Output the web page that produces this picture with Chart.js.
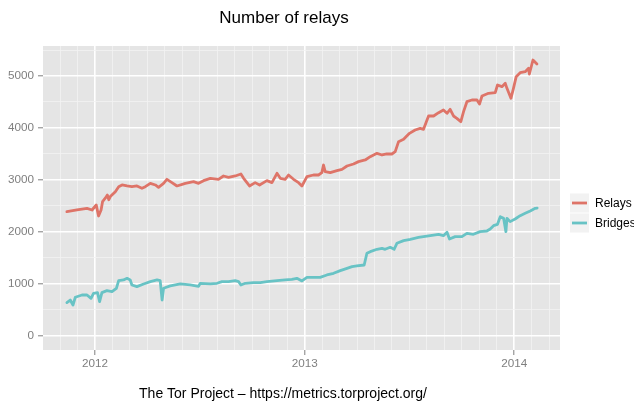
<!DOCTYPE html>
<html lang="en">
<head>
<meta charset="UTF-8">
<title>Number of relays</title>
<script src="https://cdn.jsdelivr.net/npm/chart.js"></script>
<style>
  html, body { margin: 0; padding: 0; background: #fff; }
  #chart { display: block; }
</style>
</head>
<body>
<canvas id="chart" width="634" height="407"></canvas>
<script>
// dates as decimal years, counts
const relaysDate = [
  2011.866, 2011.914, 2011.962, 2011.986, 2012.006, 2012.017, 2012.029, 2012.036, 2012.049, 2012.059,
  2012.066, 2012.073, 2012.097, 2012.113, 2012.129, 2012.153, 2012.176, 2012.200, 2012.224, 2012.240,
  2012.264, 2012.288, 2012.303, 2012.327, 2012.343, 2012.367, 2012.391, 2012.431, 2012.470, 2012.494,
  2012.518, 2012.550, 2012.589, 2012.613, 2012.637, 2012.669, 2012.696, 2012.709, 2012.737, 2012.764,
  2012.785, 2012.820, 2012.844, 2012.868, 2012.884, 2012.907, 2012.923, 2012.947, 2012.971, 2012.987,
  2013.011, 2013.042, 2013.066, 2013.082, 2013.090, 2013.098, 2013.122, 2013.154, 2013.178, 2013.202,
  2013.233, 2013.257, 2013.289, 2013.313, 2013.345, 2013.369, 2013.392, 2013.416, 2013.432, 2013.448,
  2013.472, 2013.500, 2013.527, 2013.551, 2013.567, 2013.591, 2013.615, 2013.639, 2013.662, 2013.679,
  2013.694, 2013.710, 2013.726, 2013.745, 2013.758, 2013.774, 2013.798, 2013.822, 2013.834, 2013.846,
  2013.877, 2013.909, 2013.920, 2013.941, 2013.957, 2013.965, 2013.984, 2013.996, 2014.009, 2014.028,
  2014.052, 2014.068, 2014.072, 2014.089, 2014.108
];
const relaysCount = [
  2390, 2423, 2455, 2423, 2519, 2308, 2423, 2583, 2650, 2710,
  2620, 2680, 2775, 2871, 2904, 2885, 2871, 2885, 2840, 2871,
  2936, 2904, 2859, 2936, 3013, 2950, 2885, 2936, 2968, 2936,
  2987, 3032, 3013, 3077, 3051, 3077, 3115, 3032, 2885, 2949,
  2904, 2987, 2949, 3128, 3032, 3013, 3096, 3013, 2949, 2885,
  3064, 3096, 3096, 3141, 3288, 3160, 3141, 3180, 3205, 3269,
  3308, 3353, 3385, 3449, 3513, 3481, 3500, 3500, 3545, 3737,
  3782, 3897, 3962, 3994, 3975, 4231, 4231, 4295, 4346, 4282,
  4359, 4231, 4186, 4122, 4314, 4506, 4538, 4538, 4462, 4615,
  4667, 4679, 4827, 4795, 4859, 4763, 4571, 4763, 4987, 5064,
  5083, 5147, 5038, 5308, 5231
];

const bridgesDate = [
  2011.866, 2011.882, 2011.895, 2011.906, 2011.938, 2011.962, 2011.981, 2011.993, 2012.012, 2012.022,
  2012.033, 2012.057, 2012.081, 2012.102, 2012.113, 2012.136, 2012.153, 2012.168, 2012.176, 2012.200,
  2012.232, 2012.264, 2012.296, 2012.311, 2012.320, 2012.327, 2012.359, 2012.407, 2012.454, 2012.494,
  2012.502, 2012.550, 2012.582, 2012.606, 2012.637, 2012.669, 2012.685, 2012.696, 2012.717, 2012.756,
  2012.788, 2012.820, 2012.868, 2012.907, 2012.939, 2012.963, 2012.987, 2013.011, 2013.042, 2013.074,
  2013.106, 2013.138, 2013.170, 2013.202, 2013.226, 2013.249, 2013.284, 2013.297, 2013.313, 2013.345,
  2013.369, 2013.384, 2013.408, 2013.427, 2013.440, 2013.472, 2013.504, 2013.543, 2013.599, 2013.639,
  2013.662, 2013.679, 2013.691, 2013.718, 2013.750, 2013.774, 2013.805, 2013.837, 2013.869, 2013.885,
  2013.901, 2013.920, 2013.933, 2013.949, 2013.960, 2013.965, 2013.980, 2014.004, 2014.028, 2014.052,
  2014.076, 2014.100, 2014.109
];
const bridgesCount = [
  641, 692, 596, 744, 788, 788, 724, 821, 833, 660,
  833, 871, 852, 917, 1063, 1077, 1109, 1077, 981, 948,
  1000, 1045, 1077, 1063, 692, 917, 962, 1000, 981, 955,
  1013, 1000, 1013, 1045, 1045, 1063, 1045, 981, 1013, 1026,
  1026, 1045, 1063, 1077, 1090, 1109, 1058, 1128, 1128, 1128,
  1173, 1205, 1256, 1301, 1333, 1346, 1365, 1590, 1622, 1667,
  1686, 1667, 1705, 1667, 1782, 1833, 1859, 1897, 1929, 1955,
  1929, 1994, 1865, 1910, 1910, 1974, 1955, 2006, 2019, 2058,
  2121, 2147, 2295, 2263, 2006, 2263, 2199, 2250, 2314, 2359,
  2404, 2455, 2460
];

const yearLabels = [2012, 2013, 2014];
const countLabels = [0, 1000, 2000, 3000, 4000, 5000];

const xMin = 2011.752, xMax = 2014.218;
const yMin = -270, yMax = 5577;

const relaysColor = '#DE7468';
const bridgesColor = '#68C3C5';
const fontFamily = '"Liberation Sans", Arial, Helvetica, sans-serif';

// minor breaks: every month on x, every 500 on y
const monthTicks = [];
for (let yr = 2011; yr <= 2014; yr++) {
  for (let m = 0; m < 12; m++) {
    const v = yr + m / 12;
    if (v >= xMin && v <= xMax) monthTicks.push(v);
  }
}
const countTicks = [];
for (let v = 0; v <= yMax; v += 500) countTicks.push(v);

function isYear(v) {
  return yearLabels.some(y => Math.abs(v - y) < 1e-6);
}
function isCountLabel(v) {
  return countLabels.includes(v);
}

function toPoints(xs, ys) {
  return xs.map((x, i) => ({ x: x, y: ys[i] }));
}

// grey panel like ggplot
const panelBg = {
  id: 'panelBg',
  beforeDraw(chart) {
    const { ctx, chartArea: a } = chart;
    ctx.save();
    ctx.fillStyle = '#E5E5E5';
    ctx.fillRect(a.left, a.top, a.right - a.left, a.bottom - a.top);
    ctx.restore();
  }
};

// title, caption and legend keys
const textLayer = {
  id: 'textLayer',
  afterDraw(chart) {
    const ctx = chart.ctx;
    ctx.save();
    ctx.fillStyle = '#000';
    ctx.textAlign = 'center';
    ctx.textBaseline = 'middle';
    ctx.font = '17px ' + fontFamily;
    ctx.fillText('Number of relays', 284, 18);
    ctx.font = '14px ' + fontFamily;
    ctx.fillText('The Tor Project \u2013 https://metrics.torproject.org/', 283, 394);

    chart.data.datasets.forEach((ds, i) => {
      const top = 193.5 + i * 20;
      ctx.fillStyle = '#F2F2F2';
      ctx.fillRect(570, top, 19, 19);
      ctx.strokeStyle = ds.borderColor;
      ctx.lineWidth = 2.8;
      ctx.beginPath();
      ctx.moveTo(572, top + 9.5);
      ctx.lineTo(587, top + 9.5);
      ctx.stroke();
      ctx.fillStyle = '#000';
      ctx.textAlign = 'left';
      ctx.font = '12px ' + fontFamily;
      ctx.fillText(ds.label, 595, top + 10);
    });
    ctx.restore();
  }
};

new Chart(document.getElementById('chart'), {
  type: 'line',
  data: {
    datasets: [
      { label: 'Relays', data: toPoints(relaysDate, relaysCount), borderColor: relaysColor },
      { label: 'Bridges', data: toPoints(bridgesDate, bridgesCount), borderColor: bridgesColor }
    ]
  },
  options: {
    responsive: false,
    animation: false,
    layout: { padding: { top: 46, right: 74, bottom: 27, left: 0 } },
    plugins: {
      legend: { display: false },
      title: { display: false },
      tooltip: { enabled: false }
    },
    elements: {
      point: { radius: 0 },
      line: { borderWidth: 2.8, tension: 0, fill: false, borderJoinStyle: 'round', borderCapStyle: 'round' }
    },
    scales: {
      x: {
        type: 'linear',
        min: xMin,
        max: xMax,
        afterBuildTicks: s => { s.ticks = monthTicks.map(v => ({ value: v })); },
        afterFit: s => { s.height = 30; },
        ticks: {
          autoSkip: false,
          maxRotation: 0,
          padding: 2,
          color: '#7F7F7F',
          font: { family: fontFamily, size: 11.7 },
          callback: v => isYear(v) ? String(Math.round(v)) : ''
        },
        grid: {
          color: c => (c.tick && isYear(c.tick.value)) ? '#FFFFFF' : '#F2F2F2',
          lineWidth: c => (c.tick && isYear(c.tick.value)) ? 1.6 : 0.8,
          tickColor: c => (c.tick && isYear(c.tick.value)) ? '#7F7F7F' : 'rgba(0,0,0,0)',
          tickLength: 5,
          tickWidth: 1
        },
        border: { display: false }
      },
      y: {
        type: 'linear',
        min: yMin,
        max: yMax,
        afterBuildTicks: s => { s.ticks = countTicks.map(v => ({ value: v })); },
        afterFit: s => { s.width = 43; },
        ticks: {
          autoSkip: false,
          padding: 4,
          color: '#7F7F7F',
          font: { family: fontFamily, size: 11.7 },
          callback: v => isCountLabel(v) ? String(v) : ''
        },
        grid: {
          color: c => (c.tick && isCountLabel(c.tick.value)) ? '#FFFFFF' : '#F2F2F2',
          lineWidth: c => (c.tick && isCountLabel(c.tick.value)) ? 1.6 : 0.8,
          tickColor: c => (c.tick && isCountLabel(c.tick.value)) ? '#7F7F7F' : 'rgba(0,0,0,0)',
          tickLength: 5,
          tickWidth: 1
        },
        border: { display: false }
      }
    }
  },
  plugins: [panelBg, textLayer]
});
</script>
</body>
</html>
